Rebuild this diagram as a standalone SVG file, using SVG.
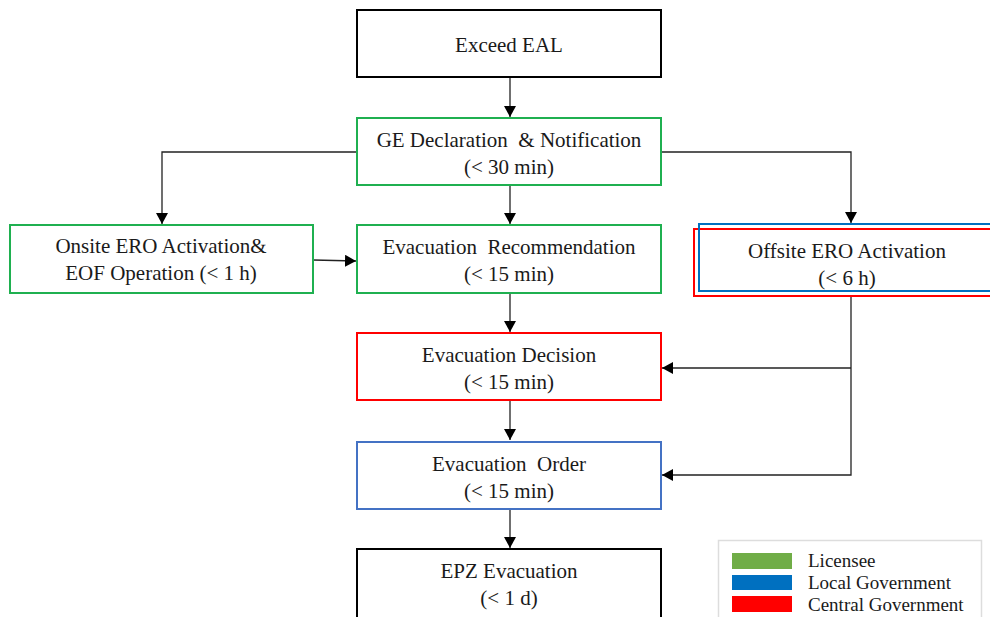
<svg xmlns="http://www.w3.org/2000/svg" width="990" height="617" viewBox="0 0 990 617">
<style>
.box{fill:#fff;stroke-width:2}
.nf{fill:none}
.blk{stroke:#000}
.grn{stroke:#1fb050}
.red{stroke:#ff0000}
.blu{stroke:#0070c0}
.blu2{stroke:#4472c4}
.t{font-family:"Liberation Serif","Times New Roman",serif;font-size:21px;fill:#1a1a1a;text-anchor:middle;white-space:pre}
.lt{font-family:"Liberation Serif","Times New Roman",serif;font-size:19px;fill:#1a1a1a}
.c{fill:none;stroke:#222;stroke-width:1.3}
</style>
<defs>
<marker id="a" viewBox="0 0 11 12" refX="11" refY="6" markerWidth="11" markerHeight="12" markerUnits="userSpaceOnUse" orient="auto">
<path d="M0,0 L11,6 L0,12 z" fill="#000"/>
</marker>
</defs>
<g id="connectors">
<path class="c" d="M510,77 V117" marker-end="url(#a)"/>
<path class="c" d="M357,152 H162 V224" marker-end="url(#a)"/>
<path class="c" d="M661,152 H851 V223" marker-end="url(#a)"/>
<path class="c" d="M510,185 V224" marker-end="url(#a)"/>
<path class="c" d="M313,260 L356,261" marker-end="url(#a)"/>
<path class="c" d="M510,293 V332" marker-end="url(#a)"/>
<path class="c" d="M851,297 V475 H662" marker-end="url(#a)"/>
<path class="c" d="M851,368 H662" marker-end="url(#a)"/>
<path class="c" d="M510,400 V440" marker-end="url(#a)"/>
<path class="c" d="M510,509 V548" marker-end="url(#a)"/>
</g>
<g id="exceed-eal">
<rect class="box blk" x="357" y="10" width="304" height="67"/>
<text class="t" x="509" y="52">Exceed EAL</text>
</g>
<g id="ge-declaration">
<rect class="box grn" x="357" y="118" width="304" height="67"/>
<text class="t" x="509" y="147" xml:space="preserve">GE Declaration  &amp; Notification</text>
<text class="t" x="509" y="174">(&lt; 30 min)</text>
</g>
<g id="onsite-ero">
<rect class="box grn" x="10" y="225" width="303" height="68"/>
<text class="t" x="161" y="253">Onsite ERO Activation&amp;</text>
<text class="t" x="161" y="280">EOF Operation (&lt; 1 h)</text>
</g>
<g id="evac-recommendation">
<rect class="box grn" x="357" y="225" width="304" height="68"/>
<text class="t" x="509" y="254" xml:space="preserve">Evacuation  Recommendation</text>
<text class="t" x="509" y="281">(&lt; 15 min)</text>
</g>
<g id="offsite-ero">
<rect class="box red" x="694" y="229" width="300" height="67"/>
<rect class="nf blu" stroke-width="2" x="699" y="224" width="300" height="67"/>
<text class="t" x="847" y="258">Offsite ERO Activation</text>
<text class="t" x="847" y="285">(&lt; 6 h)</text>
</g>
<g id="evac-decision">
<rect class="box red" x="357" y="333" width="304" height="67"/>
<text class="t" x="509" y="362">Evacuation Decision</text>
<text class="t" x="509" y="389">(&lt; 15 min)</text>
</g>
<g id="evac-order">
<rect class="box blu2" x="357" y="442" width="304" height="67"/>
<text class="t" x="509" y="471" xml:space="preserve">Evacuation  Order</text>
<text class="t" x="509" y="498">(&lt; 15 min)</text>
</g>
<g id="epz-evacuation">
<rect class="box blk" x="357" y="549" width="304" height="70"/>
<text class="t" x="509" y="578">EPZ Evacuation</text>
<text class="t" x="509" y="605">(&lt; 1 d)</text>
</g>
<g id="legend">
<rect x="718.5" y="540.5" width="263" height="80" fill="#fff" stroke="#ddd" stroke-width="1.5"/>
<rect x="732" y="553" width="60" height="16" fill="#70ad47"/>
<rect x="732" y="575" width="60" height="15" fill="#0070c0"/>
<rect x="732" y="596" width="60" height="16" fill="#ff0000"/>
<text class="lt" x="808" y="567">Licensee</text>
<text class="lt" x="808" y="589">Local Government</text>
<text class="lt" x="808" y="611">Central Government</text>
</g>
</svg>
